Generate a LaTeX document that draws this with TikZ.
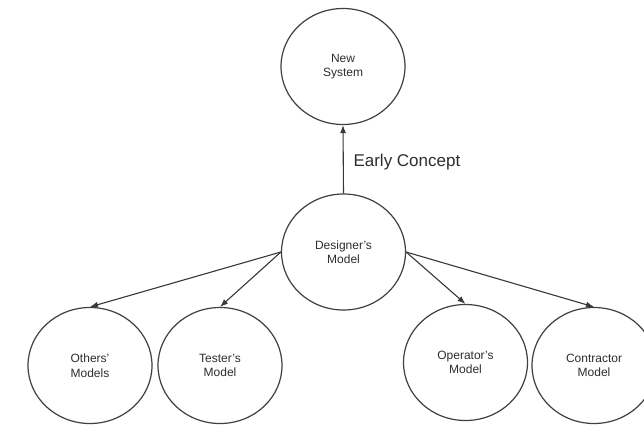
\documentclass[tikz,border=0pt]{standalone}
\usepackage{fontspec}
\setmainfont{Liberation Sans}
\usetikzlibrary{shapes.geometric,arrows.meta}
\begin{document}
\begin{tikzpicture}[x=1pt,y=-1pt,
  bubble/.style={draw=black!75, line width=1.2pt, ellipse, minimum width=124pt, minimum height=116pt,
    inner sep=0pt, align=center, font=\fontsize{12}{14.5}\selectfont, text=black!82},
  link/.style={draw=black!78, line width=1.1pt, -{Latex[length=8pt,width=6pt]}}]
\clip (0,0) rectangle (644,424);
\fill[white] (0,0) rectangle (644,424);
\node[bubble] (new) at (343,66.5) {New\\System};
\node[bubble] (des) at (343.5,252) {Designer’s\\Model};
\node[bubble] (oth) at (90,365.5) {Others’\\Models};
\node[bubble] (tes) at (220,365.5) {Tester’s\\Model};
\node[bubble] (ope) at (465.5,362.5) {Operator’s\\Model};
\node[bubble] (con) at (594,365.5) {Contractor\\Model};
\node[anchor=base west, font=\fontsize{17}{20}\selectfont, text=black!82] (lab) at (350,166) {Early Concept};
\draw[link] (des.north) -- (new.south);
\draw[link] (des.west) -- (oth.north);
\draw[link] (des.west) -- (tes.north);
\draw[link] (des.east) -- (ope.north);
\draw[link] (des.east) -- (con.north);
\end{tikzpicture}
\end{document}
